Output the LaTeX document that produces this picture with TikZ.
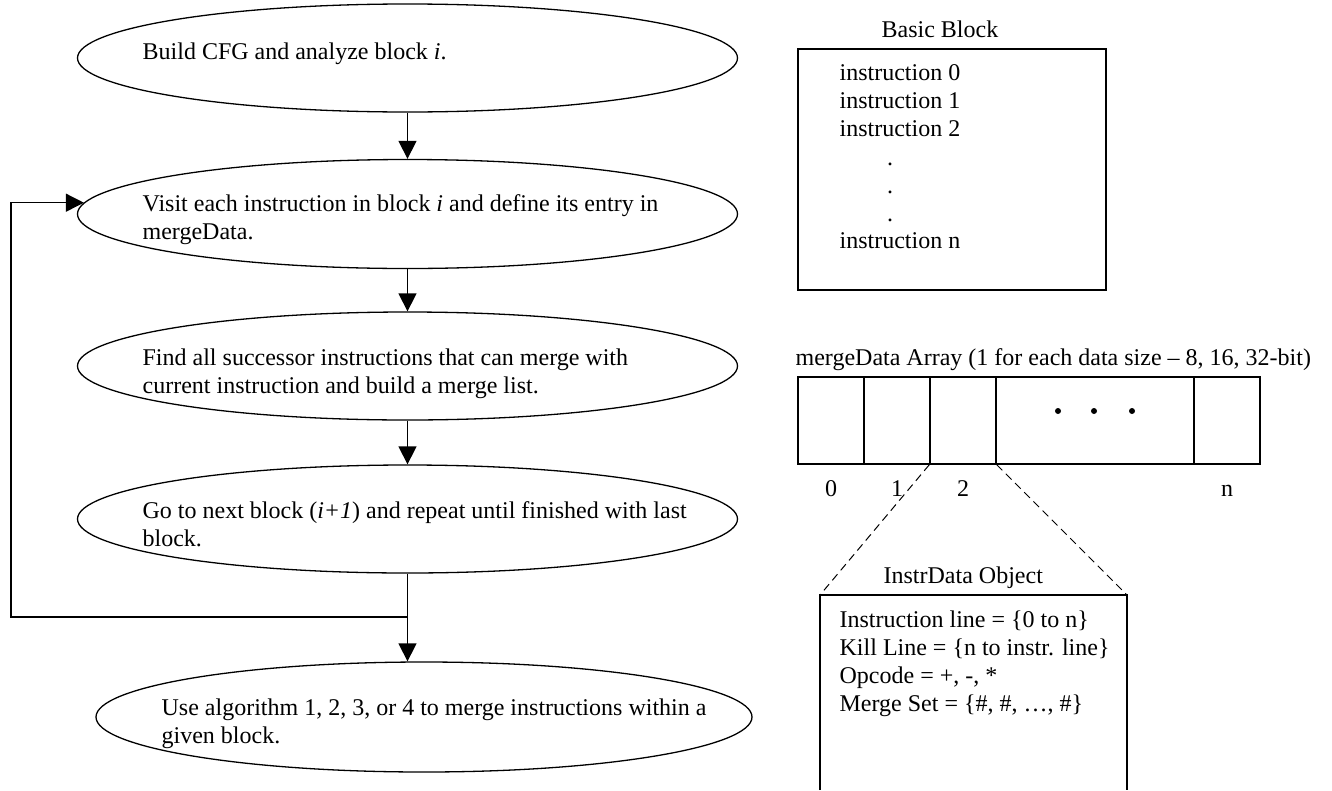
\documentclass[tikz,border=0pt]{standalone}
\usepackage{fontspec}
\setmainfont{Liberation Serif}
\usetikzlibrary{shapes.geometric,arrows.meta}
\begin{document}
\begin{tikzpicture}[x=1pt,y=-1pt, line width=1.3pt,
  proc/.style={ellipse, draw, minimum width=660pt, minimum height=108pt, inner sep=0pt},
  txt/.style={anchor=base west, inner sep=0pt, font=\fontsize{24}{27.6}\selectfont},
  ctxt/.style={anchor=base, inner sep=0pt, font=\fontsize{24}{27.6}\selectfont},
  arr/.style={-{Triangle[width=18pt,length=18pt]}},
  cell/.style={draw, minimum height=87pt, inner sep=0pt},
  dashline/.style={dash pattern=on 8pt off 5pt, line width=1pt}
]
\useasboundingbox (0,0) rectangle (1332,790);

% flowchart ellipses
\node[proc] (e1) at (407.5,58) {};
\node[proc, minimum height=109pt] (e2) at (407.5,214) {};
\node[proc] (e3) at (407.5,366) {};
\node[proc] (e4) at (407.5,519) {};
\node[proc, minimum width=656pt, minimum height=110pt] (e5) at (424,717) {};

\node[txt] (t1) at (142,59) {Build CFG and analyze block \textit{i}.};
\node[txt] (t2a) at (142,211) {Visit each instruction in block \textit{i} and define its entry in};
\node[txt] (t2b) at (142,239) {mergeData.};
\node[txt] (t3a) at (142,365) {Find all successor instructions that can merge with};
\node[txt] (t3b) at (142,393) {current instruction and build a merge list.};
\node[txt] (t4a) at (142,518) {Go to next block (\textit{i+1}) and repeat until finished with last};
\node[txt] (t4b) at (142,546) {block.};
\node[txt] (t5a) at (161,715) {Use algorithm 1, 2, 3, or 4 to merge instructions within a};
\node[txt] (t5b) at (161,743) {given block.};

% connectors
\draw[arr] (e1.south) -- (e2.north);
\draw[arr] (e2.south) -- (e3.north);
\draw[arr] (e3.south) -- (e4.north);
\coordinate (j) at (407.5,617);
\coordinate (lp) at (11,617);
\draw[arr] (e4.south) -- (e4.south |- e5.north);
\draw[arr] (j) -- (lp) |- (e2.178);

% Basic block
\node[ctxt, anchor=base west] (bbt) at (881,37) {Basic Block};
\node[draw, minimum width=308pt, minimum height=241pt, inner sep=0pt] (bb) at (952,169.5) {};
\node[txt] (i0) at (839,80) {instruction 0};
\node[txt] (i1) at (839,108) {instruction 1};
\node[txt] (i2) at (839,136) {instruction 2};
\node[ctxt] (d1) at (890,165) {.};
\node[ctxt] (d2) at (890,193) {.};
\node[ctxt] (d3) at (890,221) {.};
\node[txt] (in) at (839,248) {instruction n};

% mergeData array
\node[txt] (mdt) at (795,365) {mergeData Array (1 for each data size – 8, 16, 32-bit)};
\node[cell, minimum width=66pt] (c0) at (831,420.5) {};
\node[cell, minimum width=66pt] (c1) at (897,420.5) {};
\node[cell, minimum width=66pt] (c2) at (963,420.5) {};
\node[cell, minimum width=198pt] (c3) at (1095,420.5) {};
\node[cell, minimum width=66pt] (c4) at (1227,420.5) {};
\fill (1058,411) circle (3pt) (1094,411) circle (3pt) (1132,411) circle (3pt);
\node[ctxt] (l0) at (831,496) {0};
\node[ctxt] (l1) at (897,496) {1};
\node[ctxt] (l2) at (963,496) {2};
\node[ctxt] (ln) at (1227,496) {n};

% InstrData object
\node[txt] (idt) at (883,583) {InstrData Object};
\coordinate (ibl) at (820,790);
\coordinate (itl) at (820,595);
\coordinate (itr) at (1127,595);
\coordinate (ibr) at (1127,790);
\draw (ibl) -- (itl) -- (itr) -- (ibr);
\draw[dashline] (c2.south west) -- (itl);
\draw[dashline] (c2.south east) -- (itr);
\node[txt] (f1) at (839,627) {Instruction line = \{0 to n\}};
\node[txt] (f2) at (839,655) {Kill Line = \{n to instr. line\}};
\node[txt] (f3) at (839,683) {Opcode = +, -, *};
\node[txt] (f4) at (839,711) {Merge Set = \{\#, \#, …, \#\}};
\end{tikzpicture}
\end{document}
